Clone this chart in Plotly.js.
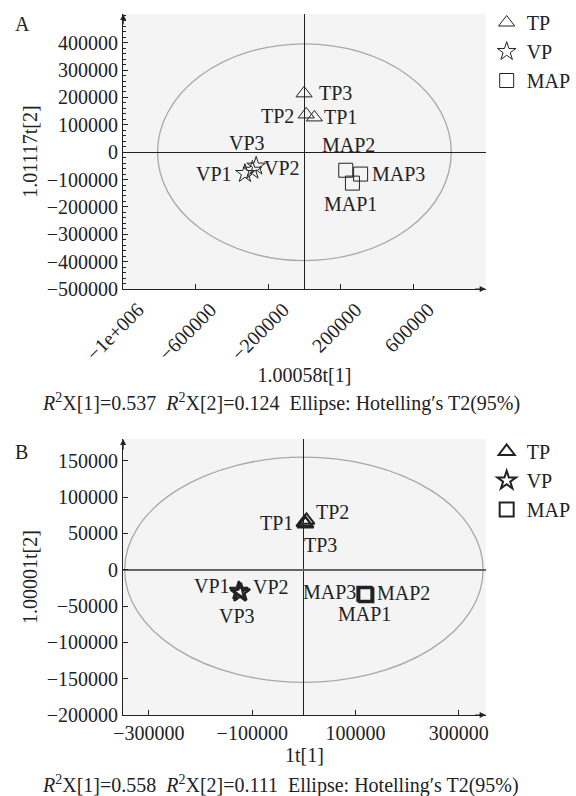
<!DOCTYPE html>
<html>
<head>
<meta charset="utf-8">
<script src="https://cdn.plot.ly/plotly-3.0.1.min.js"></script>
<style>html,body{margin:0;padding:0;background:#fff;}#chart{width:576px;height:796px;}</style>
</head>
<body>
<div id="chart"></div>
<script>
// ---------- Data: panel A ----------
const groupNames = ['TP', 'VP', 'MAP'];
const labelsTP = ['TP1', 'TP2', 'TP3'];
const labelsVP = ['VP1', 'VP2', 'VP3'];
const labelsMAP = ['MAP1', 'MAP2', 'MAP3'];

const xA_TP = [55000, 10000, -2000];
const yA_TP = [127000, 138000, 215000];
const xA_VP = [-328000, -266000, -287000];
const yA_VP = [-78000, -51000, -66000];
const xA_MAP = [265000, 228000, 310000];
const yA_MAP = [-113000, -66000, -80000];
const ellipseA = [810000, 396000];   // semi-axes (t[1], t[2])

// ---------- Data: panel B ----------
const xB_TP = [1000, 5000, 3000];
const yB_TP = [65000, 68000, 63000];
const xB_VP = [-126000, -122000, -124000];
const yB_VP = [-29000, -31000, -32000];
const xB_MAP = [117000, 121000, 119000];
const yB_MAP = [-33000, -35000, -34000];
const ellipseB = [347000, 155000];

// ---------- Tick labels ----------
const xTickValsA = [-1000000, -600000, -200000, 200000, 600000];
const xTickTextA = ['\u22121e+006', '\u2212600000', '\u2212200000', '200000', '600000'];
const yTickValsA = [400000, 300000, 200000, 100000, 0, -100000, -200000, -300000, -400000, -500000];
const yTickTextA = ['400000', '300000', '200000', '100000', '0', '\u2212100000', '\u2212200000', '\u2212300000', '\u2212400000', '\u2212500000'];
const xTickValsB = [-300000, -100000, 100000, 300000];
const xTickTextB = ['\u2212300000', '\u2212100000', '100000', '300000'];
const yTickValsB = [150000, 100000, 50000, 0, -50000, -100000, -150000, -200000];
const yTickTextB = ['150000', '100000', '50000', '0', '\u221250000', '\u2212100000', '\u2212150000', '\u2212200000'];

const captionA = '<i>R</i><sup>2</sup>X[1]=0.537&nbsp;&nbsp;<i>R</i><sup>2</sup>X[2]=0.124&nbsp;&nbsp;Ellipse: Hotelling\u2032s T2(95%)';
const captionB = '<i>R</i><sup>2</sup>X[1]=0.558&nbsp;&nbsp;<i>R</i><sup>2</sup>X[2]=0.111&nbsp;&nbsp;Ellipse: Hotelling\u2032s T2(95%)';

// ---------- Styling ----------
const FONT = 'Liberation Serif, Times New Roman, serif';
const FS = 20;
const INK = '#222';
const W = 576, H = 796;
const px = v => v / W;
const py = v => 1 - v / H;

// label pixel offsets [dx, dy(down)] for points 1..3 in each group
const offA = {
  TP: [[26, 0], [-29, 2], [31, 0]],
  VP: [[-31, 0], [26, 2], [-5, -27]],
  MAP: [[-2, 21], [3, -25], [38, 0]]
};
const offB = {
  TP: [[-28, 0], [26, -8], [15, 21]],
  VP: [[-27, -5], [30, -5], [-3, 23]],
  MAP: [[0, 20], [37, -2], [-36, -2]]
};

function tr(x, y, symbol, name, xa, ya, legend, lw) {
  return {
    type: 'scatter', mode: 'markers', x: x, y: y,
    name: name, xaxis: xa, yaxis: ya, legend: legend, showlegend: true,
    marker: {symbol: symbol, size: 14, color: INK, line: {color: INK, width: lw}},
    cliponaxis: false, hoverinfo: 'skip'
  };
}

const data = [
  tr(xA_TP, yA_TP, 'triangle-up-open', groupNames[0], 'x', 'y', 'legend', 1),
  tr(xA_VP, yA_VP, 'star-open', groupNames[1], 'x', 'y', 'legend', 1),
  tr(xA_MAP, yA_MAP, 'square-open', groupNames[2], 'x', 'y', 'legend', 1),
  tr(xB_TP, yB_TP, 'triangle-up-open', groupNames[0], 'x2', 'y2', 'legend2', 2),
  tr(xB_VP, yB_VP, 'star-open', groupNames[1], 'x2', 'y2', 'legend2', 2),
  tr(xB_MAP, yB_MAP, 'square-open', groupNames[2], 'x2', 'y2', 'legend2', 2)
];

function labelAnns(xs, ys, labels, offs, xr, yr) {
  return labels.map((t, i) => ({
    text: t, x: xs[i], y: ys[i], xref: xr, yref: yr, showarrow: false,
    xanchor: 'center', yanchor: 'middle', xshift: offs[i][0], yshift: -offs[i][1],
    font: {family: FONT, size: FS, color: INK}
  }));
}

const axisBase = {
  showgrid: false, showline: true, linecolor: INK, linewidth: 1.2,
  ticks: 'inside', ticklen: 5, tickcolor: INK, tickwidth: 1,
  tickfont: {family: FONT, size: FS, color: INK},
  zeroline: true, zerolinecolor: INK, zerolinewidth: 1.2,
  tickmode: 'array', fixedrange: true, automargin: false
};

const annotations = [
  {text: 'A', xref: 'paper', yref: 'paper', x: px(13), y: py(24), xanchor: 'left', yanchor: 'middle', showarrow: false, font: {family: FONT, size: FS, color: INK}},
  {text: 'B', xref: 'paper', yref: 'paper', x: px(13), y: py(452), xanchor: 'left', yanchor: 'middle', showarrow: false, font: {family: FONT, size: FS, color: INK}},
  {text: captionA, xref: 'paper', yref: 'paper', x: px(292), y: py(402), xanchor: 'center', yanchor: 'middle', showarrow: false, font: {family: FONT, size: FS, color: INK}},
  {text: captionB, xref: 'paper', yref: 'paper', x: px(292), y: py(784), xanchor: 'center', yanchor: 'middle', showarrow: false, font: {family: FONT, size: FS, color: INK}},
  // axis arrows
  {xref: 'x', yref: 'y', x: -1000000, y: 505000, ax: 0, ay: 12, text: '', showarrow: true, arrowhead: 2, arrowsize: 1, arrowwidth: 1.2, arrowcolor: INK},
  {xref: 'x', yref: 'y', x: 1000000, y: -500000, ax: -12, ay: 0, text: '', showarrow: true, arrowhead: 2, arrowsize: 1, arrowwidth: 1.2, arrowcolor: INK},
  {xref: 'x2', yref: 'y2', x: -350000, y: 180000, ax: 0, ay: 12, text: '', showarrow: true, arrowhead: 2, arrowsize: 1, arrowwidth: 1.2, arrowcolor: INK},
  {xref: 'x2', yref: 'y2', x: 352000, y: -200000, ax: -12, ay: 0, text: '', showarrow: true, arrowhead: 2, arrowsize: 1, arrowwidth: 1.2, arrowcolor: INK}
].concat(
  labelAnns(xA_TP, yA_TP, labelsTP, offA.TP, 'x', 'y'),
  labelAnns(xA_VP, yA_VP, labelsVP, offA.VP, 'x', 'y'),
  labelAnns(xA_MAP, yA_MAP, labelsMAP, offA.MAP, 'x', 'y'),
  labelAnns(xB_TP, yB_TP, labelsTP, offB.TP, 'x2', 'y2'),
  labelAnns(xB_VP, yB_VP, labelsVP, offB.VP, 'x2', 'y2'),
  labelAnns(xB_MAP, yB_MAP, labelsMAP, offB.MAP, 'x2', 'y2')
);

const layout = {
  width: W, height: H,
  margin: {l: 0, r: 0, t: 0, b: 0},
  paper_bgcolor: '#ffffff', plot_bgcolor: '#f4f4f4',
  font: {family: FONT, size: FS, color: INK},
  xaxis: Object.assign({}, axisBase, {
    domain: [px(128), px(505)], anchor: 'y', range: [-1000000, 1000000],
    tickvals: xTickValsA, ticktext: xTickTextA, tickangle: -45, ticklabelshift: 15,
    title: {text: '1.00058t[1]', font: {family: FONT, size: FS, color: INK}, standoff: 0}
  }),
  yaxis: Object.assign({}, axisBase, {
    domain: [py(289), py(14)], anchor: 'x', range: [-500000, 505000],
    tickvals: yTickValsA, ticktext: yTickTextA,
    minor: {ticks: 'inside', ticklen: 3, dtick: 20000, tickcolor: INK},
    title: {text: '1.01117t[2]', font: {family: FONT, size: FS, color: INK}, standoff: 3}
  }),
  xaxis2: Object.assign({}, axisBase, {
    domain: [px(128), px(505)], anchor: 'y2', range: [-350000, 352000],
    tickvals: xTickValsB, ticktext: xTickTextB,
    title: {text: '1t[1]', font: {family: FONT, size: FS, color: INK}, standoff: 2}
  }),
  yaxis2: Object.assign({}, axisBase, {
    domain: [py(715), py(439)], anchor: 'x2', range: [-200000, 180000],
    tickvals: yTickValsB, ticktext: yTickTextB,
    zerolinecolor: '#666', zerolinewidth: 2,
    title: {text: '1.00001t[2]', font: {family: FONT, size: FS, color: INK}, standoff: 3}
  }),
  legend: {
    x: px(506), y: py(3), xanchor: 'left', yanchor: 'top',
    bgcolor: 'rgba(0,0,0,0)', font: {family: FONT, size: FS, color: INK},
    tracegroupgap: 0, itemwidth: 30
  },
  legend2: {
    x: px(506), y: py(432), xanchor: 'left', yanchor: 'top',
    bgcolor: 'rgba(0,0,0,0)', font: {family: FONT, size: FS, color: INK},
    tracegroupgap: 0, itemwidth: 30
  },
  shapes: [
    {type: 'circle', xref: 'x', yref: 'y', x0: -ellipseA[0], x1: ellipseA[0], y0: -ellipseA[1], y1: ellipseA[1],
     line: {color: '#a8a8a8', width: 1.3}, layer: 'below'},
    {type: 'circle', xref: 'x2', yref: 'y2', x0: -ellipseB[0], x1: ellipseB[0], y0: -ellipseB[1], y1: ellipseB[1],
     line: {color: '#a8a8a8', width: 1.3}, layer: 'below'}
  ],
  annotations: annotations
};

Plotly.newPlot('chart', data, layout, {staticPlot: true, displayModeBar: false});
</script>
</body>
</html>
